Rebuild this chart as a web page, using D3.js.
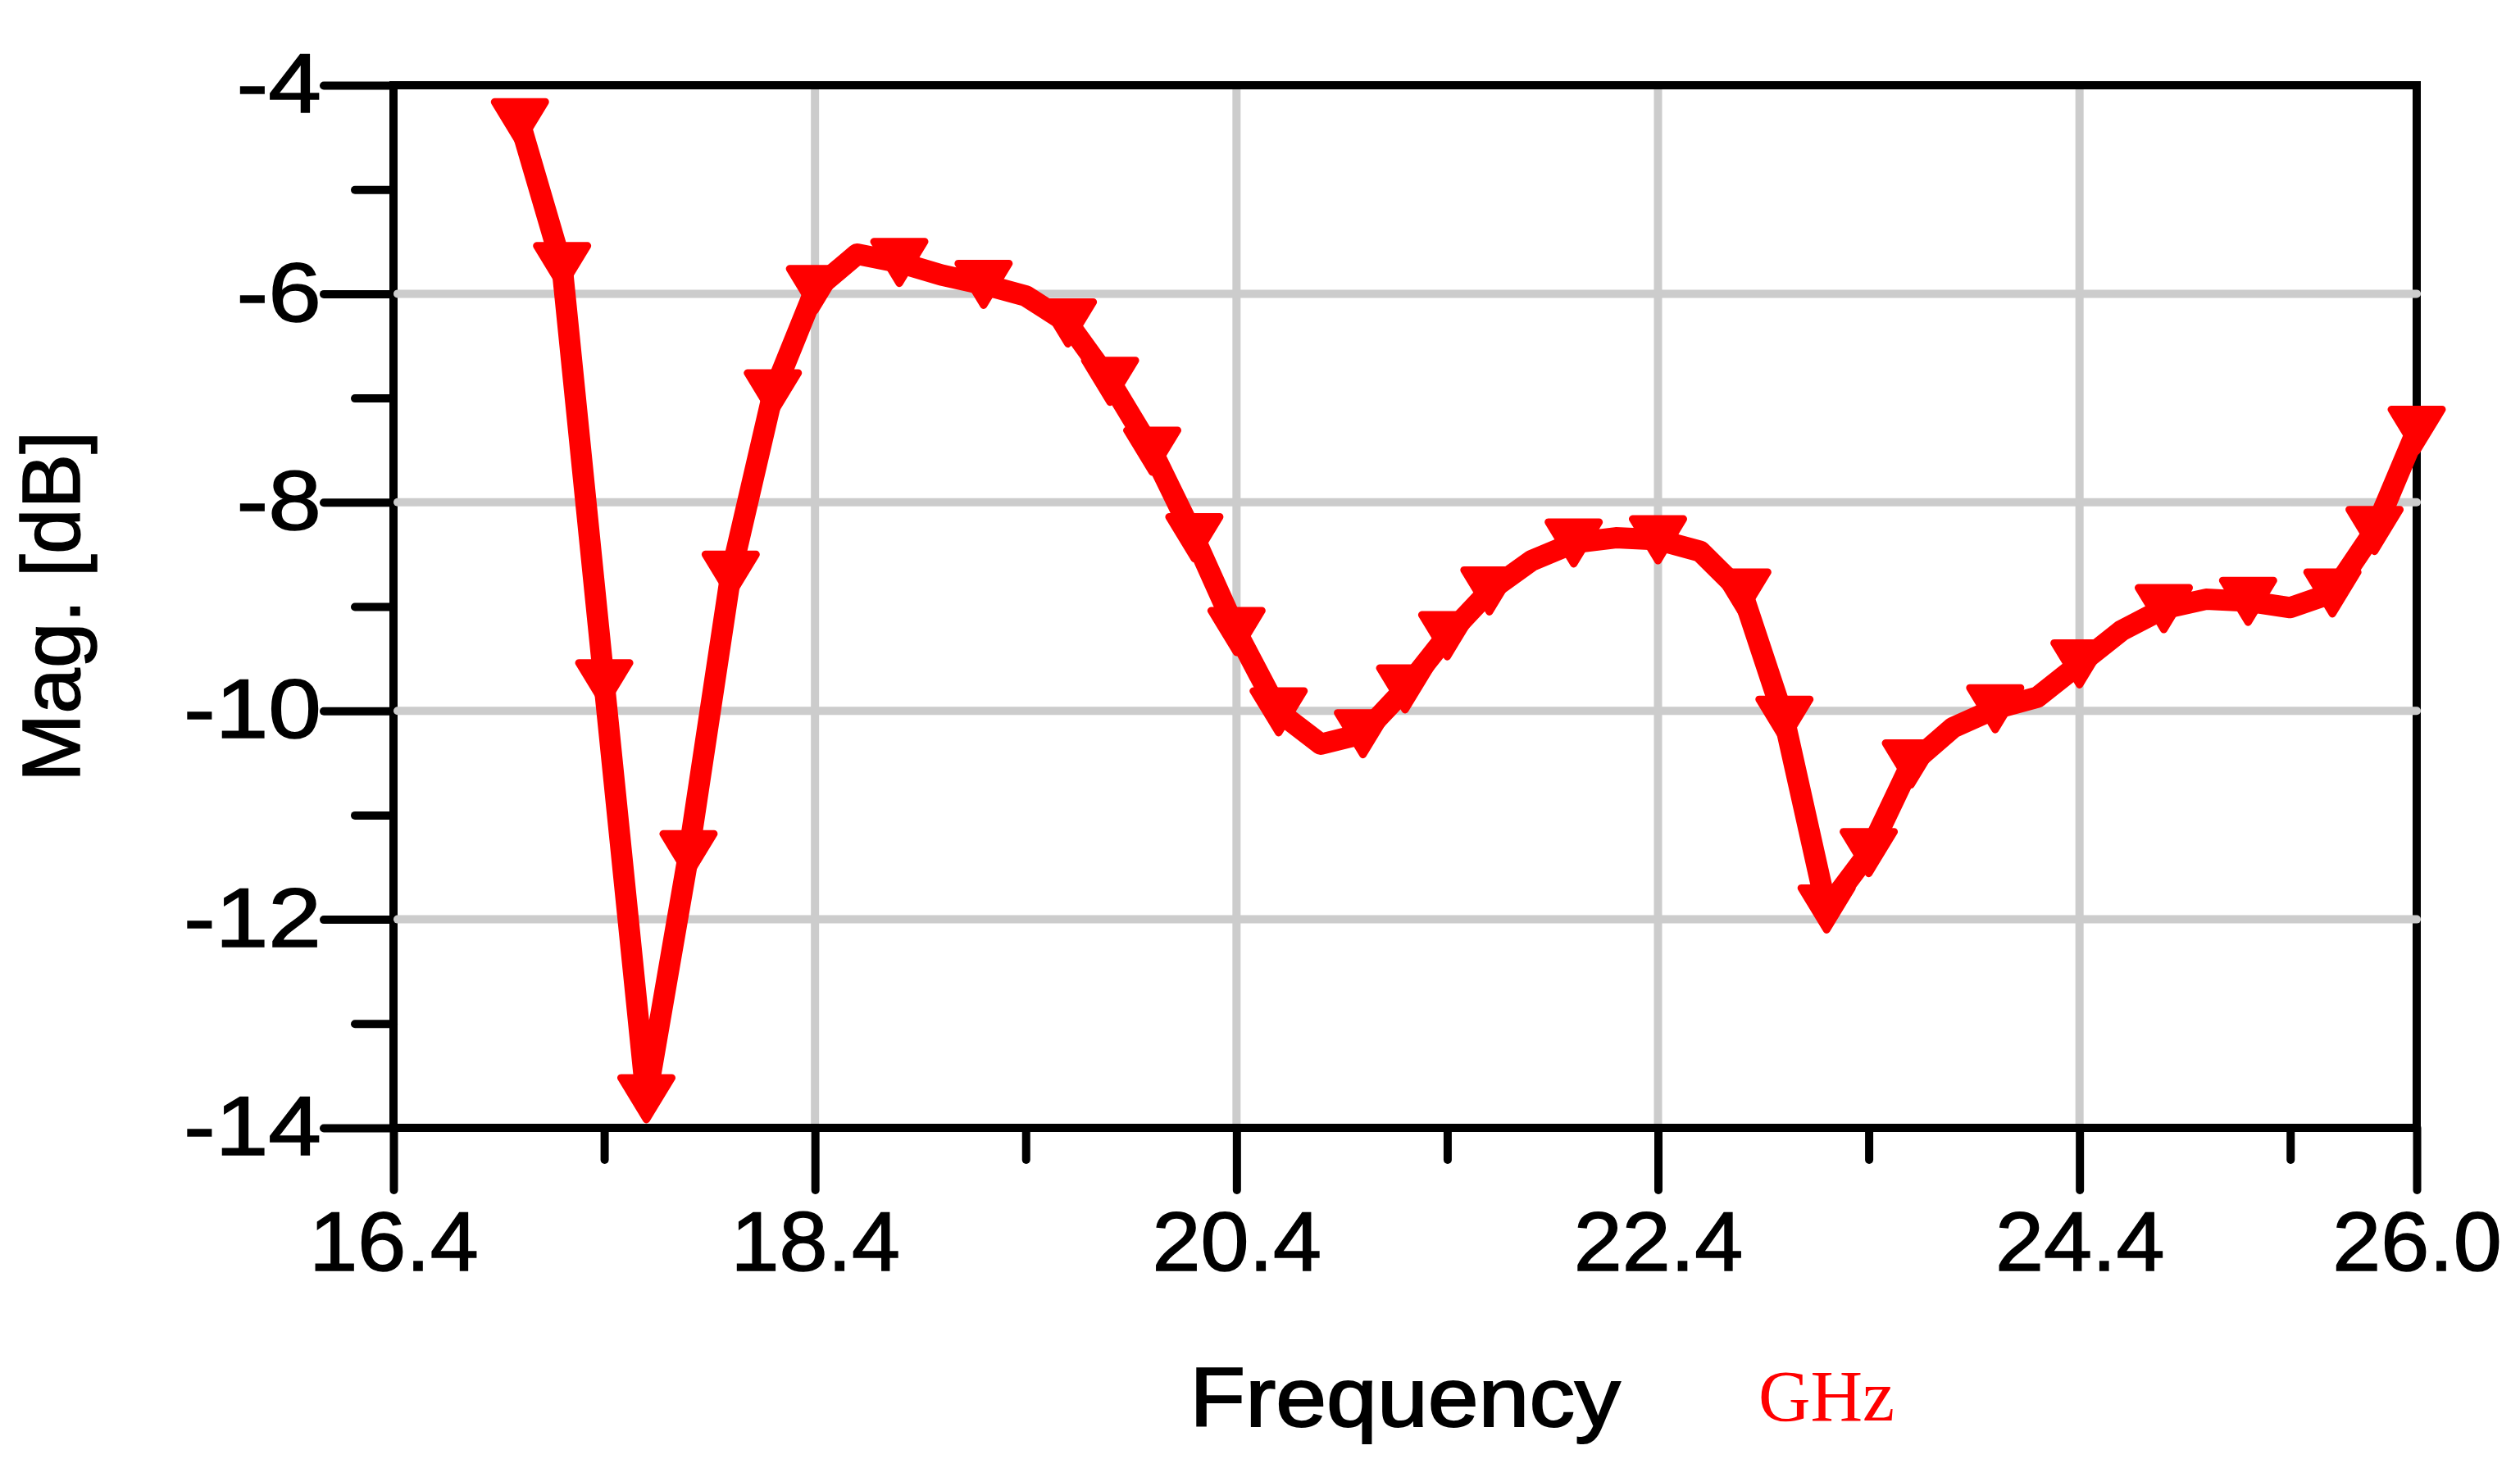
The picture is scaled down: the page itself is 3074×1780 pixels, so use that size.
<!DOCTYPE html>
<html><head><meta charset="utf-8">
<script src="https://cdn.jsdelivr.net/npm/d3@7"></script>
<style>html,body{margin:0;padding:0;background:#fff;overflow:hidden}</style>
</head><body>
<svg id="chart" width="3074" height="1780"></svg>
<script>
// ---- data ----
const freqGHz = [17.0,17.2,17.4,17.6,17.8,18.0,18.2,18.4,18.6,18.8,19.0,19.2,19.4,19.6,19.8,20.0,20.2,20.4,20.6,20.8,21.0,21.2,21.4,21.6,21.8,22.0,22.2,22.4,22.6,22.8,23.0,23.2,23.4,23.6,23.8,24.0,24.2,24.4,24.6,24.8,25.0,25.2,25.4,25.6,25.8,26.0];
const magDb = [-4.36,-5.74,-9.74,-13.72,-11.38,-8.70,-6.96,-5.96,-5.62,-5.70,-5.82,-5.91,-6.02,-6.28,-6.84,-7.51,-8.34,-9.24,-10.01,-10.32,-10.22,-9.79,-9.28,-8.85,-8.56,-8.39,-8.34,-8.36,-8.47,-8.87,-10.09,-11.90,-11.36,-10.51,-10.16,-9.98,-9.87,-9.55,-9.23,-9.02,-8.93,-8.95,-9.01,-8.87,-8.27,-7.31];
const markerFreqs = [17.0,17.2,17.4,17.6,17.8,18.0,18.2,18.4,18.8,19.2,19.6,19.8,20.0,20.2,20.4,20.6,21.0,21.2,21.4,21.6,22.0,22.4,22.8,23.0,23.2,23.4,23.6,24.0,24.4,24.8,25.2,25.6,25.8,26.0];
const xTickValues = [16.4,18.4,20.4,22.4,24.4,26.0];
const xTickLabels = ["16.4","18.4","20.4","22.4","24.4","26.0"];
const xMinorTicks = [17.4,19.4,21.4,23.4,25.4];
const xGridValues = [18.4,20.4,22.4,24.4];
const yTickValues = [-4,-6,-8,-10,-12,-14];
const yTickLabels = ["-4","-6","-8","-10","-12","-14"];
const yMinorTicks = [-5,-7,-9,-11,-13];
const yGridValues = [-6,-8,-10,-12];
const xTitle = "Frequency";
const xUnit = "GHz";
const yTitle = "Mag. [dB]";

// ---- layout ----
const L = 480, R = 2948, T = 104, B = 1376;
const svg = d3.select("#chart");
const x = d3.scaleLinear().domain([16.4, 26.0]).range([L, R]);
const y = d3.scaleLinear().domain([-4, -14]).range([T, B]);
const sans = "'Liberation Sans', Arial, sans-serif";
const points = freqGHz.map((f, i) => ({f, m: magDb[i]}));

function widen(sel, k) {
  sel.each(function () {
    const w = this.getComputedTextLength();
    d3.select(this).attr("textLength", w * k).attr("lengthAdjust", "spacingAndGlyphs");
  });
}

// frame
svg.append("rect").attr("x", L).attr("y", T).attr("width", R - L).attr("height", B - T)
  .attr("fill", "none").attr("stroke", "#000").attr("stroke-width", 10);

// axes ticks
function styleAxis(g) {
  g.select(".domain").remove();
  g.selectAll(".tick line").attr("stroke", "#000").attr("stroke-width", 10).attr("stroke-linecap", "round");
  g.selectAll(".tick text").attr("fill", "#000").attr("stroke", "#000").attr("stroke-width", 1.5)
    .attr("font-family", sans).attr("font-size", 102);
}
const xAxis = svg.append("g").attr("transform", `translate(0,${B})`)
  .call(d3.axisBottom(x).tickValues(xTickValues).tickFormat((d, i) => xTickLabels[i]).tickSize(76).tickPadding(26));
styleAxis(xAxis);
xAxis.selectAll(".tick text").attr("dy", "0.71em");
widen(xAxis.selectAll(".tick text"), 1.04);
const xMinor = svg.append("g").attr("transform", `translate(0,${B})`)
  .call(d3.axisBottom(x).tickValues(xMinorTicks).tickFormat("").tickSize(39));
styleAxis(xMinor);

const yAxis = svg.append("g").attr("transform", `translate(${L},0)`)
  .call(d3.axisLeft(y).tickValues(yTickValues).tickFormat((d, i) => yTickLabels[i]).tickSize(85).tickPadding(3));
styleAxis(yAxis);
widen(yAxis.selectAll(".tick text"), 1.14);
const yMinor = svg.append("g").attr("transform", `translate(${L},0)`)
  .call(d3.axisLeft(y).tickValues(yMinorTicks).tickFormat("").tickSize(47));
styleAxis(yMinor);

// grid
const grid = svg.append("g").attr("stroke", "#cccccc").attr("stroke-width", 10);
grid.selectAll("line.v").data(xGridValues).join("line").attr("class", "v")
  .attr("x1", d => x(d)).attr("x2", d => x(d)).attr("y1", T + 5).attr("y2", B - 5);
grid.selectAll("line.h").data(yGridValues).join("line").attr("class", "h")
  .attr("x1", L + 5).attr("x2", R).attr("y1", d => y(d)).attr("y2", d => y(d)).attr("stroke-linecap", "round");

// curve
const line = d3.line().x(d => x(d.f)).y(d => y(d.m));
svg.append("path").datum(points).attr("d", line)
  .attr("fill", "none").attr("stroke", "#ff0000").attr("stroke-width", 26)
  .attr("stroke-linejoin", "round").attr("stroke-linecap", "round");

// markers (down triangles)
const tri = "M-31,-25.5L31,-25.5L0,25.5Z";
const markerPts = points.filter(p => markerFreqs.some(f => Math.abs(f - p.f) < 1e-6));
svg.append("g").selectAll("path").data(markerPts).join("path")
  .attr("d", tri).attr("transform", d => `translate(${x(d.f)},${y(d.m)})`)
  .attr("fill", "#ff0000").attr("stroke", "#ff0000").attr("stroke-width", 9).attr("stroke-linejoin", "round");

// titles
const xt = svg.append("text").attr("x", (L + R) / 2).attr("y", 1740).attr("text-anchor", "middle")
  .attr("font-family", sans).attr("font-size", 102).attr("fill", "#000")
  .attr("stroke", "#000").attr("stroke-width", 2).text(xTitle);
widen(xt, 1.09);
svg.append("text").attr("x", 2145).attr("y", 1733)
  .attr("font-family", "'Liberation Serif', 'Times New Roman', serif").attr("font-size", 88).attr("fill", "#ff0000").text(xUnit);
svg.append("text").attr("transform", `translate(97,${(T + B) / 2}) rotate(-90)`).attr("text-anchor", "middle")
  .attr("font-family", sans).attr("font-size", 100).attr("fill", "#000")
  .attr("stroke", "#000").attr("stroke-width", 1.5).text(yTitle);
</script>
</body></html>
